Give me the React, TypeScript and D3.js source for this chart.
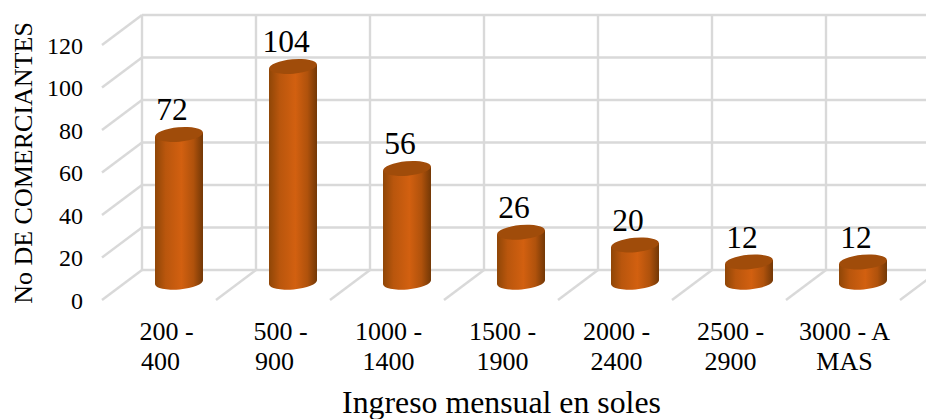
import React from "react";
import * as d3 from "d3";

const categories = ["200 - 400", "500 - 900", "1000 - 1400", "1500 - 1900", "2000 - 2400", "2500 - 2900", "3000 - A MAS"];
const categoryLines = [["200 -", "400"], ["500 -", "900"], ["1000 -", "1400"], ["1500 -", "1900"], ["2000 -", "2400"], ["2500 -", "2900"], ["3000 - A", "MAS"]];
const merchants = [72, 104, 56, 26, 20, 12, 12];
const yTicks = [0, 20, 40, 60, 80, 100, 120];

const W = 926, H = 419;
const FONT = "'Liberation Serif', 'Times New Roman', serif";
const GRID = "#d9d9d9";
const DEPTH_X = 40, DEPTH_Y = 30;

// Back-wall scales; bars stand in a plane shifted down from the wall.
const band = d3.scaleBand<string>().domain(categories).range([142, 940]).paddingInner(0).paddingOuter(0);
const yWall = d3.scaleLinear().domain([0, 120]).range([270, 15]);
const yBar = d3.scaleLinear().domain([0, 120]).range([287.5, 32.5]);

const RX = 24, RY = 7.2, TILT = -5;
const BASE_Y = 282.2;
const dy = RX * Math.tan((TILT * Math.PI) / 180);

// The short three-digit ranges wrap with their first line pushed right.
const firstLineShift = (label: string) => (label.length === 5 ? 6 : 0);

export default function App() {
  const cx = (c: string) => (band(c) as number) + band.step() / 2 - 20;
  return (
    <svg width={W} height={H} viewBox={`0 0 ${W} ${H}`} style={{ position: "absolute", left: 0, top: 0, background: "#fff" }} fontFamily={FONT}>
      <defs>
        <linearGradient id="barSide" x1="0" x2="1" y1="0" y2="0">
          <stop offset="0" stopColor="#8f4607" />
          <stop offset="0.22" stopColor="#b9560d" />
          <stop offset="0.55" stopColor="#d26010" />
          <stop offset="0.8" stopColor="#b0520c" />
          <stop offset="1" stopColor="#733806" />
        </linearGradient>
      </defs>
      <g stroke={GRID} strokeWidth={2.4} fill="none">
        {yTicks.map((t) => (
          <g key={t}>
            <line x1={142} x2={W} y1={yWall(t)} y2={yWall(t)} />
            <line x1={142} x2={142 - DEPTH_X} y1={yWall(t)} y2={yWall(t) + DEPTH_Y} />
          </g>
        ))}
        {categories.map((c) => (
          <line key={c} x1={band(c)} x2={band(c)} y1={15} y2={270} />
        ))}
        {[...categories.slice(1).map((c) => band(c) as number), 940].map((x) => (
          <line key={x} x1={x} x2={x - DEPTH_X} y1={270} y2={270 + DEPTH_Y} />
        ))}
      </g>
      {categories.map((c, i) => {
        const x = cx(c);
        const top = yBar(merchants[i]);
        return (
          <g key={c}>
            <path
              d={`M${x - RX},${top - dy}V${BASE_Y - dy}A${RX},${RY} ${TILT} 0 0 ${x + RX},${BASE_Y + dy}V${top + dy}Z`}
              fill="url(#barSide)"
            />
            <ellipse cx={x} cy={top} rx={RX} ry={RY} transform={`rotate(${TILT} ${x} ${top})`} fill="#a04c0a" />
            <text x={x - 7} y={top - 14.5} textAnchor="middle" fontSize={31.5} fill="#000">{merchants[i]}</text>
            {categoryLines[i].map((s, j) => (
              <text key={s} x={x - 18.5 + (j === 0 ? firstLineShift(s) : 0)} y={340 + j * 30} textAnchor="middle" fontSize={26} fill="#000">{s}</text>
            ))}
          </g>
        );
      })}
      {yTicks.map((t) => (
        <text key={t} x={83} y={yWall(t) + 38.5} textAnchor="end" fontSize={24} fill="#000">{t}</text>
      ))}
      <text x={501.5} y={413} textAnchor="middle" fontSize={31.8} fill="#000">Ingreso mensual en soles</text>
      <text transform="translate(32,163) rotate(-90)" textAnchor="middle" fontSize={26} fill="#000">No DE COMERCIANTES</text>
    </svg>
  );
}
